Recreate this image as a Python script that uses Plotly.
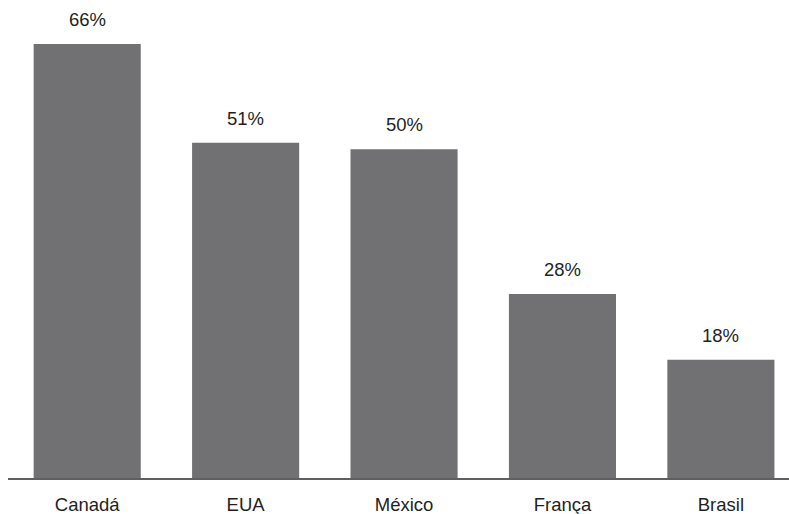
import plotly.graph_objects as go

# Share of respondents by country
countries = ["Canadá", "EUA", "México", "França", "Brasil"]
shares = [66, 51, 50, 28, 18]
value_labels = [f"{v}%" for v in shares]

bar_color = "#717073"
text_color = "#231f20"
font_family = "Liberation Sans, Arial, sans-serif"

fig = go.Figure(
    go.Bar(
        x=countries,
        y=shares,
        marker=dict(color=bar_color, line=dict(width=0)),
        hoverinfo="skip",
    )
)

# Percent labels above each bar
for c, v, lab in zip(countries, shares, value_labels):
    fig.add_annotation(
        x=c, y=v, text=lab, showarrow=False,
        yanchor="bottom", yshift=12,
        font=dict(family=font_family, size=18.5, color=text_color),
    )

fig.update_layout(
    width=789, height=514,
    margin=dict(l=8, r=0, t=0, b=36),
    paper_bgcolor="white", plot_bgcolor="white",
    bargap=0.324,
    showlegend=False,
    font=dict(family=font_family, size=18.5, color=text_color),
)
fig.update_xaxes(
    range=[-0.5, 4.43],
    showline=True, linecolor="#5f5f5f", linewidth=1.5,
    showgrid=False, zeroline=False,
    ticks="", ticklabelstandoff=9,
    tickfont=dict(family=font_family, size=18.5, color=text_color),
    automargin=False, fixedrange=True,
)
fig.update_yaxes(
    range=[0, 72.7],
    visible=False, showgrid=False, zeroline=False,
    automargin=False, fixedrange=True,
)

fig.write_html("out.html", config={"displayModeBar": False})
